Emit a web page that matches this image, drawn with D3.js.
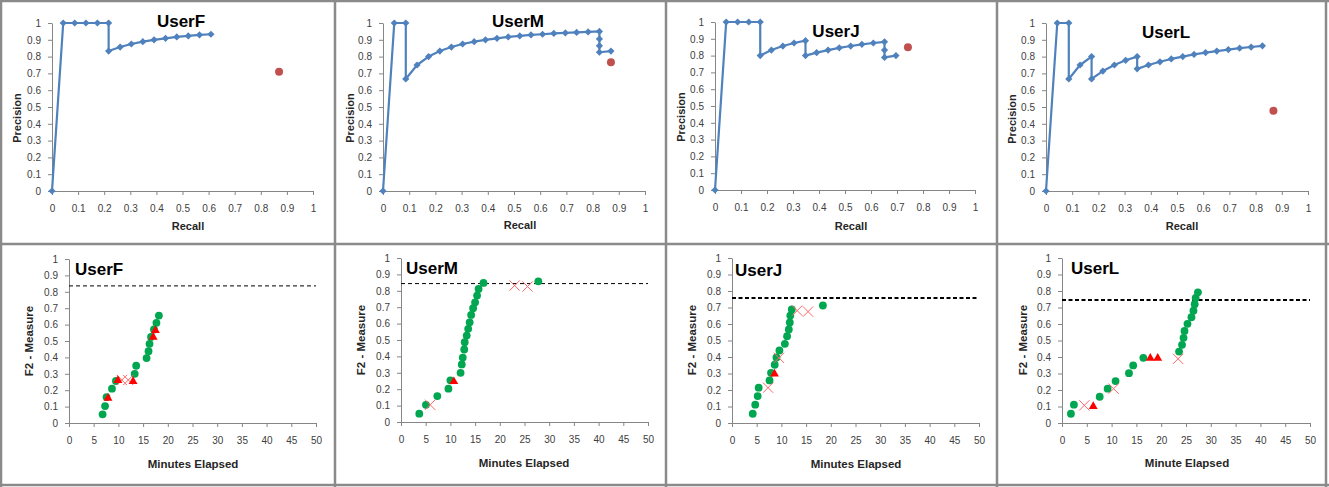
<!DOCTYPE html>
<html>
<head>
<meta charset="utf-8">
<script src="https://cdn.jsdelivr.net/npm/d3@7"></script>
<style>
  body { margin: 0; background: #fff; }
  svg { display: block; }
  text { font-family: "Liberation Sans", Arial, sans-serif; }
</style>
</head>
<body>
<svg id="chart" width="1329" height="487"></svg>
<script>
// ---- data ----
const recallTicks = [0, 0.1, 0.2, 0.3, 0.4, 0.5, 0.6, 0.7, 0.8, 0.9, 1];
const scoreTicks = [0, 0.1, 0.2, 0.3, 0.4, 0.5, 0.6, 0.7, 0.8, 0.9, 1];
const minuteTicks = [0, 5, 10, 15, 20, 25, 30, 35, 40, 45, 50];

const userNames = ['UserF', 'UserM', 'UserJ', 'UserL'];

// precision / recall curves
const userF_recall = [0, 0.043, 0.087, 0.13, 0.174, 0.217, 0.217, 0.261, 0.304, 0.348, 0.391, 0.435, 0.478, 0.522, 0.565, 0.609];
const userF_precision = [0, 1, 1, 1, 1, 1, 0.833, 0.857, 0.875, 0.889, 0.9, 0.909, 0.917, 0.923, 0.929, 0.933];
const userF_final = [0.87, 0.71];

const userM_recall = [0, 0.043, 0.087, 0.087, 0.13, 0.174, 0.217, 0.261, 0.304, 0.348, 0.391, 0.435, 0.478, 0.522, 0.565, 0.609, 0.652, 0.696, 0.739, 0.783, 0.826, 0.826, 0.826, 0.826, 0.87];
const userM_precision = [0, 1, 1, 0.667, 0.75, 0.8, 0.833, 0.857, 0.875, 0.889, 0.9, 0.909, 0.917, 0.923, 0.929, 0.933, 0.938, 0.941, 0.944, 0.947, 0.95, 0.905, 0.864, 0.826, 0.833];
const userM_final = [0.87, 0.767];

const userJ_recall = [0, 0.043, 0.087, 0.13, 0.174, 0.174, 0.217, 0.261, 0.304, 0.348, 0.348, 0.391, 0.435, 0.478, 0.522, 0.565, 0.609, 0.652, 0.652, 0.652, 0.696];
const userJ_precision = [0, 1, 1, 1, 1, 0.8, 0.833, 0.857, 0.875, 0.889, 0.8, 0.818, 0.833, 0.846, 0.857, 0.867, 0.875, 0.882, 0.833, 0.789, 0.8];
const userJ_final = [0.742, 0.849];

const userL_recall = [0, 0.043, 0.087, 0.087, 0.13, 0.174, 0.174, 0.217, 0.261, 0.304, 0.348, 0.348, 0.391, 0.435, 0.478, 0.522, 0.565, 0.609, 0.652, 0.696, 0.739, 0.783, 0.826];
const userL_precision = [0, 1, 1, 0.667, 0.75, 0.8, 0.667, 0.714, 0.75, 0.778, 0.8, 0.727, 0.75, 0.769, 0.786, 0.8, 0.813, 0.824, 0.833, 0.842, 0.85, 0.857, 0.864];
const userL_final = [0.868, 0.477];

// F2 measure over time: hits (green), triangles, crosses, target line
const userF_hitMin = [6.8, 7.3, 7.6, 8.7, 9.5, 13.3, 13.6, 15.7, 16.1, 16.3, 16.6, 17.2, 17.7, 18.2];
const userF_hitF2 = [0.053, 0.103, 0.158, 0.209, 0.256, 0.3, 0.349, 0.396, 0.438, 0.483, 0.525, 0.57, 0.611, 0.655];
const userF_triMin = [7.9, 9.9, 12.97, 17.05, 17.5];
const userF_triF2 = [0.152, 0.26, 0.254, 0.523, 0.564];
const userF_xMin = [10.7, 12.0];
const userF_xF2 = [0.262, 0.262];
const userF_target = 0.836;

const userM_hitMin = [3.7, 5.05, 7.35, 9.6, 10.0, 12.06, 12.3, 12.5, 12.8, 12.9, 13.3, 13.6, 13.9, 14.2, 14.6, 15.0, 15.4, 15.7, 16.7, 27.8];
const userM_hitF2 = [0.051, 0.105, 0.158, 0.203, 0.254, 0.3, 0.351, 0.393, 0.442, 0.487, 0.527, 0.568, 0.608, 0.653, 0.694, 0.73, 0.771, 0.811, 0.848, 0.858];
const userM_triMin = [10.7];
const userM_triF2 = [0.247];
const userM_xMin = [5.9, 23.0, 25.6];
const userM_xF2 = [0.105, 0.832, 0.826];
const userM_target = 0.844;

const userJ_hitMin = [4.2, 4.7, 5.2, 5.4, 7.6, 7.9, 8.65, 9.0, 9.6, 10.7, 11.15, 11.5, 11.7, 11.8, 12.1, 18.4];
const userJ_hitF2 = [0.056, 0.111, 0.163, 0.214, 0.258, 0.304, 0.353, 0.397, 0.44, 0.48, 0.526, 0.567, 0.609, 0.651, 0.688, 0.712];
const userJ_triMin = [8.6];
const userJ_triF2 = [0.298];
const userJ_xMin = [7.3, 9.5, 13.2, 15.4];
const userJ_xF2 = [0.214, 0.395, 0.681, 0.675];
const userJ_target = 0.758;

const userL_hitMin = [1.8, 2.4, 7.6, 9.2, 10.8, 13.5, 14.35, 16.4, 23.6, 24.2, 24.5, 24.7, 25.3, 26.1, 26.5, 26.75, 26.95, 27.4];
const userL_hitF2 = [0.056, 0.111, 0.159, 0.208, 0.254, 0.302, 0.349, 0.395, 0.433, 0.474, 0.516, 0.558, 0.601, 0.641, 0.681, 0.72, 0.758, 0.792];
const userL_triMin = [6.3, 17.8, 19.3];
const userL_triF2 = [0.101, 0.393, 0.393];
const userL_xMin = [4.5, 10.4, 23.4];
const userL_xF2 = [0.107, 0.208, 0.389];
const userL_target = 0.746;

const timeXLabels = ['Minutes Elapsed', 'Minutes Elapsed', 'Minutes Elapsed', 'Minute Elapsed'];

// ---- layout ----
const topPanels = [
  { plot: [52, 313, 23, 191], title: [181, 27], xLab: [188, 230], yLab: [21, 118],
    recall: userF_recall, precision: userF_precision, final: userF_final },
  { plot: [383, 645, 23, 191], title: [518, 27], xLab: [520, 229], yLab: [354, 118],
    recall: userM_recall, precision: userM_precision, final: userM_final },
  { plot: [715, 975, 22, 190], title: [836, 37], xLab: [851, 230], yLab: [685, 117],
    recall: userJ_recall, precision: userJ_precision, final: userJ_final },
  { plot: [1046, 1308, 23, 191], title: [1166, 38], xLab: [1182, 230], yLab: [1016, 119],
    recall: userL_recall, precision: userL_precision, final: userL_final }
];

const bottomPanels = [
  { plot: [69, 316, 259, 423], title: [75, 275], xLab: [193, 468], yLab: [33, 341], dash: 1,
    hitMin: userF_hitMin, hitF2: userF_hitF2, triMin: userF_triMin, triF2: userF_triF2,
    xMin: userF_xMin, xF2: userF_xF2, target: userF_target },
  { plot: [401, 648, 258, 422], title: [406, 274], xLab: [524, 467], yLab: [365, 340], dash: 1,
    hitMin: userM_hitMin, hitF2: userM_hitF2, triMin: userM_triMin, triF2: userM_triF2,
    xMin: userM_xMin, xF2: userM_xF2, target: userM_target },
  { plot: [732, 979, 258, 423], title: [735, 276], xLab: [856, 468], yLab: [696, 340], dash: 2,
    hitMin: userJ_hitMin, hitF2: userJ_hitF2, triMin: userJ_triMin, triF2: userJ_triF2,
    xMin: userJ_xMin, xF2: userJ_xF2, target: userJ_target },
  { plot: [1062, 1310, 258, 423], title: [1071, 274], xLab: [1187, 467], yLab: [1027, 340], dash: 2,
    hitMin: userL_hitMin, hitF2: userL_hitF2, triMin: userL_triMin, triF2: userL_triF2,
    xMin: userL_xMin, xF2: userL_xF2, target: userL_target }
];

const svg = d3.select('#chart');
const axisColor = '#868686';
const tickTextColor = '#404040';

// Panel frames
const frameColor = '#8a8a8a';
[1, 335, 666, 997, 1326].forEach(x => {
  svg.append('line').attr('x1', x).attr('x2', x).attr('y1', 0).attr('y2', 487)
    .style('stroke', frameColor).style('stroke-width', 2.5);
});
[1, 244, 485].forEach(y => {
  svg.append('line').attr('x1', 0).attr('x2', 1329).attr('y1', y).attr('y2', y)
    .style('stroke', frameColor).style('stroke-width', 2.5);
});

// Draw axes with Excel-like styling
const drawAxes = (g, x, y, xTicks, yTicks, bottomY, leftX) => {
  g.append('g')
    .attr('transform', `translate(0, ${bottomY})`)
    .call(d3.axisBottom(x).tickValues(xTicks).tickSize(4).tickPadding(10).tickSizeOuter(0).tickFormat(d => d))
    .call(a => a.selectAll('text').style('fill', tickTextColor).style('font-size', '10px'));

  g.append('g')
    .attr('transform', `translate(${leftX}, 0)`)
    .call(d3.axisLeft(y).tickValues(yTicks).tickSize(4).tickPadding(7).tickSizeOuter(0).tickFormat(d => d))
    .call(a => a.selectAll('text').style('fill', tickTextColor).style('font-size', '10px'));

  g.selectAll('.domain').style('stroke', axisColor);
  g.selectAll('.tick line').style('stroke', axisColor);
};

const addLabels = (g, p, xText, yText, titleText, titleAnchor, labelSize) => {
  g.append('text')
    .attr('x', p.title[0]).attr('y', p.title[1])
    .attr('text-anchor', titleAnchor)
    .style('font-size', '17px').style('font-weight', 'bold').style('fill', '#000')
    .text(titleText);

  g.append('text')
    .attr('x', p.xLab[0]).attr('y', p.xLab[1])
    .attr('text-anchor', 'middle')
    .style('font-size', labelSize).style('font-weight', 'bold').style('fill', '#262626')
    .text(xText);

  g.append('text')
    .attr('transform', `translate(${p.yLab[0]}, ${p.yLab[1]}) rotate(-90)`)
    .attr('text-anchor', 'middle')
    .style('font-size', labelSize).style('font-weight', 'bold').style('fill', '#262626')
    .text(yText);
};

// Top row: precision vs recall
topPanels.forEach((p, i) => {
  const g = svg.append('g').attr('class', 'pr-panel');
  const [x0, x1, yTop, yBot] = p.plot;
  const x = d3.scaleLinear().domain([0, 1]).range([x0, x1]);
  const y = d3.scaleLinear().domain([0, 1]).range([yBot, yTop]);

  drawAxes(g, x, y, recallTicks, scoreTicks, yBot, x0);

  const pts = p.recall.map((r, k) => [r, p.precision[k]]);

  g.append('path')
    .datum(pts)
    .attr('d', d3.line().x(d => x(d[0])).y(d => y(d[1])))
    .style('fill', 'none')
    .style('stroke', '#4F81BD')
    .style('stroke-width', 2.2)
    .style('stroke-linejoin', 'round');

  g.selectAll('.diamond')
    .data(pts)
    .enter()
    .append('path')
    .attr('class', 'diamond')
    .attr('transform', d => `translate(${x(d[0])}, ${y(d[1])}) rotate(45)`)
    .attr('d', d3.symbol(d3.symbolSquare, 26))
    .style('fill', '#4F81BD');

  g.append('circle')
    .attr('cx', x(p.final[0]))
    .attr('cy', y(p.final[1]))
    .attr('r', 4)
    .style('fill', '#C0504D');

  addLabels(g, p, 'Recall', 'Precision', userNames[i], 'middle', '11px');
});

// Bottom row: F2 measure over elapsed minutes
const crossSymbol = d3.symbolTimes || d3.symbolX;
bottomPanels.forEach((p, i) => {
  const g = svg.append('g').attr('class', 'f2-panel');
  const [x0, x1, yTop, yBot] = p.plot;
  const x = d3.scaleLinear().domain([0, 50]).range([x0, x1]);
  const y = d3.scaleLinear().domain([0, 1]).range([yBot, yTop]);

  drawAxes(g, x, y, minuteTicks, scoreTicks, yBot, x0);

  g.append('line')
    .attr('x1', x(0)).attr('x2', x(50))
    .attr('y1', y(p.target)).attr('y2', y(p.target))
    .style('stroke', '#000')
    .style('stroke-width', p.dash === 1 ? 1 : 2)
    .style('stroke-dasharray', p.dash === 1 ? '4,3' : '4,2.5');

  g.selectAll('.hit')
    .data(p.hitMin.map((m, k) => [m, p.hitF2[k]]))
    .enter()
    .append('circle')
    .attr('class', 'hit')
    .attr('cx', d => x(d[0]))
    .attr('cy', d => y(d[1]))
    .attr('r', 3.9)
    .style('fill', '#00A650');

  g.selectAll('.cross')
    .data(p.xMin.map((m, k) => [m, p.xF2[k]]))
    .enter()
    .append('path')
    .attr('class', 'cross')
    .attr('transform', d => `translate(${x(d[0])}, ${y(d[1])})`)
    .attr('d', d3.symbol(crossSymbol, 70))
    .style('fill', 'none')
    .style('stroke', '#FF6666')
    .style('stroke-width', 1);

  g.selectAll('.tri')
    .data(p.triMin.map((m, k) => [m, p.triF2[k]]))
    .enter()
    .append('path')
    .attr('class', 'tri')
    .attr('transform', d => `translate(${x(d[0])}, ${y(d[1])})`)
    .attr('d', d3.symbol(d3.symbolTriangle, 34))
    .style('fill', '#FF0000');

  addLabels(g, p, timeXLabels[i], 'F2 - Measure', userNames[i], 'start', '11.5px');
});
</script>
</body>
</html>
